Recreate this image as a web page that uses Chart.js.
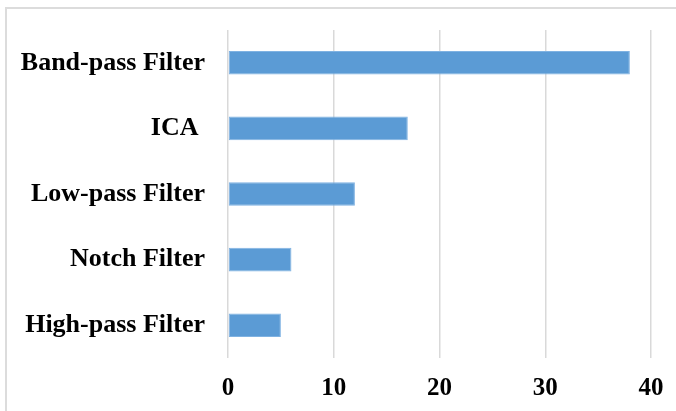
<!DOCTYPE html>
<html>
<head>
<meta charset="utf-8">
<script src="https://cdn.jsdelivr.net/npm/chart.js@4/dist/chart.umd.min.js"></script>
<style>
  html, body { margin: 0; padding: 0; background: #fff; }
  #wrap { position: relative; width: 676px; height: 411px; overflow: hidden; }
  #frame { position: absolute; left: 5px; top: 7px; width: 700px; height: 440px;
           border: 2px solid #dcdcdc; box-sizing: border-box; pointer-events: none; }
  canvas { position: absolute; left: 0; top: 0; }
</style>
</head>
<body>
<div id="wrap">
  <canvas id="chart" width="676" height="411"></canvas>
  <div id="frame"></div>
</div>
<script>
const methods = ["Band-pass Filter", "ICA ", "Low-pass Filter", "Notch Filter", "High-pass Filter"];
const counts = [38, 17, 12, 6, 5];
const xTicks = [0, 10, 20, 30, 40];

const serif = "'Liberation Serif', 'Times New Roman', serif";
const categoryFont = { family: serif, size: 26, weight: "bold" };
const tickFont = { family: serif, size: 25, weight: "bold" };

new Chart(document.getElementById("chart"), {
  type: "bar",
  data: {
    labels: methods,
    datasets: [{
      data: counts,
      backgroundColor: "#5b9bd5",
      borderColor: "#7fb2e2",
      borderWidth: 1,
      borderSkipped: false,
      categoryPercentage: 1.0,
      barPercentage: 0.36
    }]
  },
  options: {
    indexAxis: "y",
    responsive: false,
    animation: false,
    devicePixelRatio: 1,
    layout: { padding: { top: 30, right: 25, bottom: 0, left: 0 } },
    plugins: { legend: { display: false }, tooltip: { enabled: false } },
    scales: {
      x: {
        min: xTicks[0],
        max: xTicks[xTicks.length - 1],
        afterBuildTicks: (scale) => { scale.ticks = xTicks.map(v => ({ value: v })); },
        afterFit: (scale) => { scale.height = 53; scale.paddingLeft = 0; scale.paddingRight = 0; },
        grid: { color: "#d9d9d9", lineWidth: 1.5, drawTicks: false },
        border: { display: false },
        ticks: { color: "#000", font: tickFont, padding: 16 }
      },
      y: {
        afterFit: (scale) => { scale.width = 228; scale.paddingTop = 0; scale.paddingBottom = 0; },
        grid: { display: false },
        border: { display: false },
        ticks: { color: "#000", font: categoryFont, padding: 15 }
      }
    }
  }
});
</script>
</body>
</html>
